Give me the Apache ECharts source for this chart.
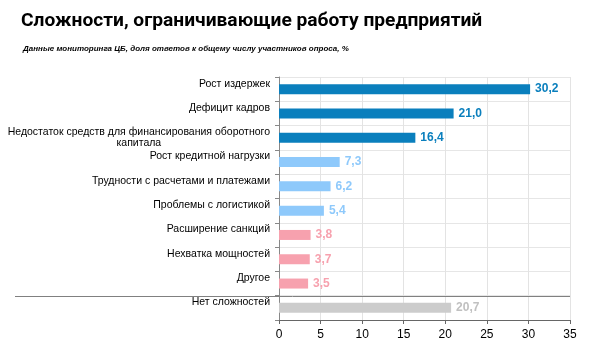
<!DOCTYPE html>
<html><head><meta charset="utf-8">
<script src="https://cdn.jsdelivr.net/npm/echarts@6/dist/echarts.min.js"></script>
<style>html,body{margin:0;padding:0;background:#fff}#c{width:590px;height:343px}</style>
</head><body><div id="c"></div>
<script>
const categories = ['Рост издержек','Дефицит кадров','Недостаток средств для финансирования оборотного\nкапитала','Рост кредитной нагрузки','Трудности с расчетами и платежами','Проблемы с логистикой','Расширение санкций','Нехватка мощностей','Другое','Нет сложностей'];
const values = [30.2, 21.0, 16.4, 7.3, 6.2, 5.4, 3.8, 3.7, 3.5, 20.7];
const groups = ['dark','dark','dark','light','light','light','pink','pink','pink','grey'];
const xTicks = [0,5,10,15,20,25,30,35];
const titleText = 'Сложности, ограничивающие работу предприятий';
const subtitleText = 'Данные мониторинга ЦБ, доля ответов к общему числу участников опроса, %';

const barColors = {dark:'#0a7fbd', light:'#8ec9fb', pink:'#f7a1ae', grey:'#cccccc'};
const labelColors = {dark:'#0a7fbd', light:'#8ec9fb', pink:'#f7a1ae', grey:'#c0c0c0'};
const labelFont = 10.5;
const labelMargin = 9;

const cv = document.createElement('canvas').getContext('2d');
cv.font = labelFont + 'px "Liberation Sans"';
function tw(s){return cv.measureText(s).width;}

const chart = echarts.init(document.getElementById('c'));
const opt = {
  animation:false,
  title:[
    {text:titleText, left:21, top:12, padding:0, textStyle:{fontFamily:'Roboto', fontWeight:'bold', fontSize:19.2, color:'#000'}},
    {text:subtitleText, left:23, top:45, padding:0, textStyle:{fontFamily:'Liberation Sans', fontWeight:'bold', fontStyle:'italic', fontSize:8, color:'#000'}}
  ],
  grid:{left:279, right:20, top:77, bottom:23, outerBoundsMode:'none', containLabel:false},
  xAxis:{type:'value', min:xTicks[0], max:xTicks[xTicks.length-1], interval:5,
    axisLine:{show:true, lineStyle:{color:'#666'}},
    axisTick:{show:true, length:4, lineStyle:{color:'#666'}},
    axisLabel:{color:'#000', fontSize:12, fontFamily:'Liberation Sans', margin:9},
    splitLine:{show:true, lineStyle:{color:'#e3e3e3'}}
  },
  yAxis:{type:'category', inverse:true, data:categories,
    axisLine:{show:true, lineStyle:{color:'#888'}},
    axisTick:{show:true, length:4, inside:false, lineStyle:{color:'#888'}},
    splitLine:{show:true, lineStyle:{color:'#e6e6e6'}},
    axisLabel:{color:'#000', fontSize:labelFont, fontFamily:'Liberation Sans', margin:labelMargin, lineHeight:11,
      formatter:function(v){
        return v.split('\n')[0]+'\n\u00a0';
      }
    }
  },
  series:[{type:'bar', barWidth:10,
    data: values.map((v,i)=>({value:v, itemStyle:{color:barColors[groups[i]]},
      label:{color:labelColors[groups[i]]}})),
    label:{show:true, position:'right', distance:5, fontWeight:'bold', fontSize:12, fontFamily:'Liberation Sans',
      formatter:p=>p.value.toFixed(1).replace('.',',')}
  }]
};
chart.setOption(opt);
const graphics = [];
const y1 = chart.convertToPixel({yAxisIndex:0}, categories[8]);
const y2 = chart.convertToPixel({yAxisIndex:0}, categories[9]);
const yy = Math.round((y1+y2)/2)+0.5;
const xr = chart.convertToPixel({xAxisIndex:0}, xTicks[xTicks.length-1]);
const x0 = chart.convertToPixel({xAxisIndex:0}, xTicks[0]);
graphics.push({type:'line', shape:{x1:15, y1:yy, x2:xr, y2:yy}, style:{stroke:'#808080', lineWidth:1}, z:100});
categories.forEach(function(v, i){
  if(v.indexOf('\n')<0) return;
  const p=v.split('\n');
  const cy=chart.convertToPixel({yAxisIndex:0}, i);
  const cx=x0-labelMargin-tw(p[0])/2-tw(p[1])/2;
  graphics.push({type:'text', x:cx, y:cy+5.5, style:{text:p[1], fontSize:labelFont, fontFamily:'Liberation Sans', fill:'#000', textAlign:'left', textVerticalAlign:'middle'}, z:100});
});
chart.setOption({graphic:graphics});
</script></body></html>
